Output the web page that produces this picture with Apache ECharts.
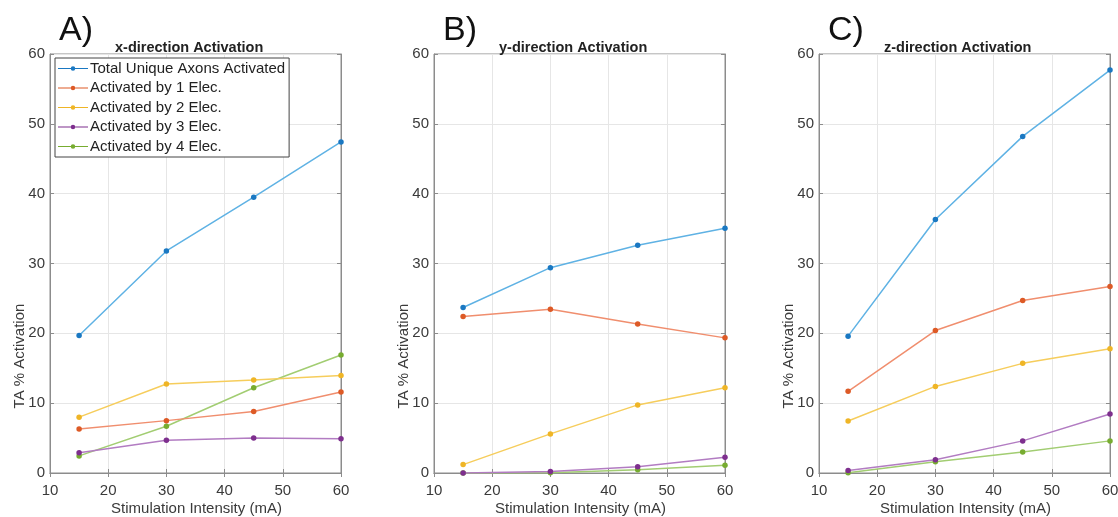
<!DOCTYPE html>
<html><head><meta charset="utf-8">
<script src="https://cdn.jsdelivr.net/npm/echarts@6/dist/echarts.min.js"></script>
<style>html,body{margin:0;padding:0;background:#fff}#c{width:1118px;height:517px}</style>
</head><body><div id="c"></div>
<script>
const xValues = [15, 30, 45, 60];
const seriesNames = ['Total Unique Axons Activated','Activated by 1 Elec.','Activated by 2 Elec.','Activated by 3 Elec.','Activated by 4 Elec.'];
const panelLetters = ['A)', 'B)', 'C)'];
const panelTitles = ['x-direction Activation', 'y-direction Activation', 'z-direction Activation'];
// Panel A (x-direction)
const xTotal = [19.7, 31.8, 39.5, 47.4];
const xElec1 = [6.3, 7.5, 8.8, 11.6];
const xElec2 = [8.0, 12.75, 13.3, 13.95];
const xElec3 = [2.9, 4.7, 5.0, 4.9];
const xElec4 = [2.45, 6.7, 12.2, 16.9];
// Panel B (y-direction)
const yTotal = [23.7, 29.4, 32.6, 35.05];
const yElec1 = [22.4, 23.45, 21.35, 19.35];
const yElec2 = [1.2, 5.6, 9.75, 12.2];
const yElec3 = [0.0, 0.2, 0.9, 2.25];
const yElec4 = [0.0, 0.05, 0.47, 1.1];
// Panel C (z-direction)
const zTotal = [19.6, 36.3, 48.2, 57.7];
const zElec1 = [11.7, 20.4, 24.7, 26.7];
const zElec2 = [7.45, 12.4, 15.7, 17.8];
const zElec3 = [0.35, 1.9, 4.6, 8.45];
const zElec4 = [0.05, 1.6, 3.0, 4.6];
const xTicks = [10, 20, 30, 40, 50, 60];
const yTicks = [0, 10, 20, 30, 40, 50, 60];
const xAxisTitle = 'Stimulation Intensity (mA)';
const yAxisTitle = 'TA % Activation';

const panels = [
  [xTotal, xElec1, xElec2, xElec3, xElec4],
  [yTotal, yElec1, yElec2, yElec3, yElec4],
  [zTotal, zElec1, zElec2, zElec3, zElec4]
];
const lineColors = ['#5fb2e4', '#f08e6e', '#f6cd5c', '#b27cc2', '#a2cd72'];
const markColors = ['#1a78c2', '#dd5a26', '#efb526', '#7e2f8e', '#77ac30'];
const gridLefts = [50, 434, 819];
const gridW = 291;
const font = 'Liberation Sans, Arial, sans-serif';

const grids = [], xAxes = [], yAxes = [], series = [], titles = [], graphics = [];
panels.forEach((p, i) => {
  grids.push({left: gridLefts[i], top: 54, width: gridW, height: 419, show: true,
    borderColor: '#8c8c8c', borderWidth: 1, containLabel: false, outerBoundsMode: 'none'});
  const axLine = {show: true, lineStyle: {color: '#8c8c8c', width: 1}};
  const tick = {show: true, inside: true, length: 4, lineStyle: {color: '#8c8c8c'}};
  xAxes.push({type: 'value', gridIndex: i, min: xTicks[0], max: xTicks[xTicks.length-1], interval: 10,
    axisLine: axLine, axisTick: tick,
    axisLabel: {color: '#3a3a3a', fontSize: 15, fontFamily: font, margin: 10},
    splitLine: {show: true, lineStyle: {color: '#e6e6e6'}}});
  xAxes.push({type: 'value', gridIndex: i, position: 'top', min: 10, max: 60, interval: 10,
    axisLine: axLine, axisTick: tick, axisLabel: {show: false}, splitLine: {show: false}});
  yAxes.push({type: 'value', gridIndex: i, min: yTicks[0], max: yTicks[yTicks.length-1], interval: 10,
    axisLine: axLine, axisTick: tick,
    axisLabel: {color: '#3a3a3a', fontSize: 15, fontFamily: font, margin: 5},
    splitLine: {show: true, lineStyle: {color: '#e6e6e6'}}});
  yAxes.push({type: 'value', gridIndex: i, position: 'right', min: 0, max: 60, interval: 10,
    axisLine: axLine, axisTick: tick, axisLabel: {show: false}, splitLine: {show: false}});
  p.forEach((vals, k) => {
    series.push({
      name: seriesNames[k], type: 'line', xAxisIndex: i*2, yAxisIndex: i*2,
      data: xValues.map((x, j) => [x, vals[j]]),
      symbol: 'circle', symbolSize: 5.5, showSymbol: true,
      lineStyle: {color: lineColors[k], width: 1.5},
      itemStyle: {color: markColors[k]},
      emphasis: {disabled: true}, z: 10 - k
    });
  });
  titles.push({text: panelLetters[i], left: gridLefts[i] + 4, top: 9,
    textStyle: {fontSize: 34, fontWeight: 'normal', color: '#111', fontFamily: font}});
  titles.push({text: panelTitles[i], left: gridLefts[i] + 60, top: 35,
    textStyle: {fontSize: 14.5, fontWeight: 'bold', color: '#222', fontFamily: font}});
  graphics.push({type: 'text', x: gridLefts[i] - 30, y: 356, rotation: Math.PI / 2,
    style: {text: yAxisTitle, fill: '#3a3a3a', font: '15px ' + font, align: 'center', verticalAlign: 'middle'}});
  graphics.push({type: 'text', x: gridLefts[i] + gridW / 2 + 1, y: 509,
    style: {text: xAxisTitle, fill: '#3a3a3a', font: '15px ' + font, align: 'center', verticalAlign: 'middle'}});
});

const legendIcon = 'path://M0,4.4 L32,4.4 L32,5.6 L0,5.6 Z M16,2.6 A2.4,2.4 0 1 1 15.99,2.6 Z';
const chart = echarts.init(document.getElementById('c'), null, {renderer: 'canvas'});
chart.setOption({
  animation: false,
  backgroundColor: '#fff',
  title: titles,
  graphic: graphics,
  grid: grids, xAxis: xAxes, yAxis: yAxes, series: series,
  legend: {
    data: seriesNames.map((n, k) => ({name: n, icon: legendIcon, itemStyle: {color: markColors[k]}})),
    left: 55, top: 58, orient: 'vertical',
    backgroundColor: '#fff', borderColor: '#444', borderWidth: 1,
    padding: [3, 4, 3, 3], itemGap: 4.5, itemWidth: 30, itemHeight: 10,
    textStyle: {fontSize: 15, color: '#222', fontFamily: font, padding: [0, 0, 0, -3]},
    selectedMode: false
  }
});
</script></body></html>
